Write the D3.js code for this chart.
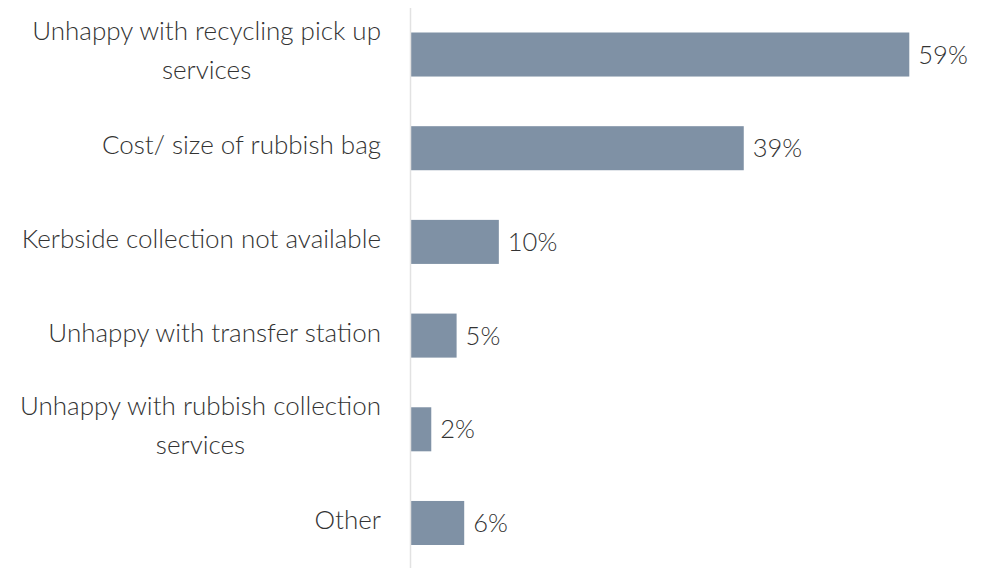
<!DOCTYPE html>
<html>
<head>
<meta charset="utf-8">
<script src="https://cdn.jsdelivr.net/npm/d3@7"></script>
<style>
  html, body { margin: 0; padding: 0; background: #ffffff; }
  svg { display: block; }
  text { font-family: "Source Sans Pro", Lato, "Open Sans", sans-serif; font-weight: 300; fill: #333333; }
</style>
</head>
<body>
<svg id="chart" width="989" height="568"></svg>
<script>
const categories = [
  "Unhappy with recycling pick up\nservices",
  "Cost/ size of rubbish bag",
  "Kerbside collection not available",
  "Unhappy with transfer station",
  "Unhappy with rubbish collection\nservices",
  "Other"
];
const values = [59.0, 39.4, 10.4, 5.4, 2.4, 6.3];
const valueLabels = ["59%", "39%", "10%", "5%", "2%", "6%"];

const svg = d3.select("#chart");
const W = 989, H = 568;
const catFont = 26;
const valFont = 25.5;
const labelRight = 381;

const y = d3.scaleBand()
  .domain(categories)
  .range([32.5, 545])
  .paddingInner(0.53)
  .paddingOuter(0);

const x = d3.scaleLinear()
  .domain([0, 59])
  .range([411, 909.3]);

// bars
svg.append("g").selectAll("rect")
  .data(categories)
  .join("rect")
  .attr("x", x(0))
  .attr("y", d => y(d))
  .attr("width", (d, i) => x(values[i]) - x(0))
  .attr("height", y.bandwidth())
  .attr("fill", "#7f91a5");

// axis line
svg.append("line")
  .attr("x1", 410.5).attr("x2", 410.5)
  .attr("y1", 8).attr("y2", H)
  .attr("stroke", "#e2e2e2")
  .attr("stroke-width", 1.5);

// category labels: block right-aligned, lines centred within block
const lab = svg.append("g").selectAll("g")
  .data(categories)
  .join("g");

lab.each(function(d) {
  const lines = d.split("\n");
  const g = d3.select(this);
  const lh = 39;
  const cy = y(d) + y.bandwidth() / 2;
  const texts = lines.map((ln, k) => {
    const base = cy + 6 + (k - (lines.length - 1) / 2) * lh - (lines.length > 1 ? 1 : 0);
    return g.append("text")
      .attr("font-size", catFont)
      .attr("text-anchor", "middle")
      .attr("y", base)
      .text(ln);
  });
  const maxW = d3.max(texts, t => t.node().getComputedTextLength());
  texts.forEach(t => t.attr("x", labelRight - maxW / 2));
});

// value labels
svg.append("g").selectAll("text")
  .data(categories)
  .join("text")
  .attr("font-size", valFont)
  .attr("x", (d, i) => x(values[i]) + 9)
  .attr("y", d => y(d) + y.bandwidth() / 2 + 9)
  .text((d, i) => valueLabels[i]);
</script>
</body>
</html>
